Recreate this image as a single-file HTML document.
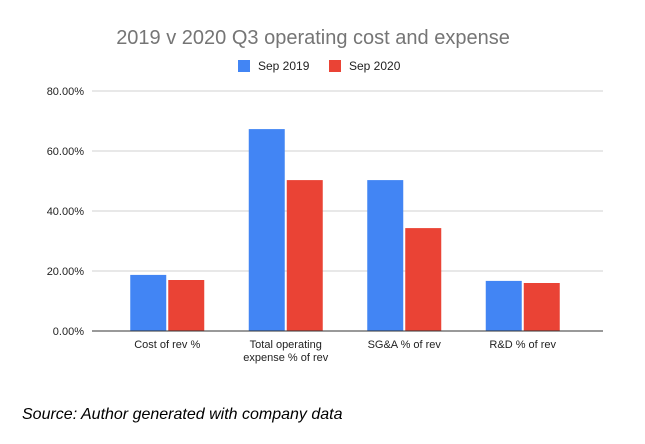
<!DOCTYPE html>
<html><head><meta charset="utf-8"><style>
body{margin:0;background:#fff;}
svg text{font-family:"Liberation Sans",Arial,sans-serif;}
</style></head><body>
<svg width="645" height="439" id="c">
<text x="313" y="44" text-anchor="middle" font-size="20" fill="#757575">2019 v 2020 Q3 operating cost and expense</text>
<rect x="238" y="60" width="12" height="12" fill="#4285f4"/>
<text x="258" y="70" font-size="12" fill="#222">Sep 2019</text>
<rect x="329" y="60" width="12" height="12" fill="#ea4335"/>
<text x="349" y="70" font-size="12" fill="#222">Sep 2020</text>
<text x="22" y="419" font-size="16" font-style="italic" fill="#000">Source: Author generated with company data</text>
</svg>
<script>
const categories=[["Cost of rev %"],["Total operating","expense % of rev"],["SG&A % of rev"],["R&D % of rev"]];
const sep2019=[18.7,67.3,50.3,16.7];
const sep2020=[17.0,50.3,34.3,16.0];
const ticks=[0,20,40,60,80];
const tickLabels=["0.00%","20.00%","40.00%","60.00%","80.00%"];
const svg=document.getElementById('c');
const NS='http://www.w3.org/2000/svg';
const y0=331,yTop=91,vmax=80,px0=108,px1=582,gx0=92,gx1=603;
function y(v){return y0-(v/vmax)*(y0-yTop);}
function xc(i){return px0+(px1-px0)/categories.length*(i+0.5);}
function mk(t,a){const e=document.createElementNS(NS,t);for(const k in a)e.setAttribute(k,a[k]);svg.appendChild(e);return e;}
ticks.forEach((t,i)=>{
 if(t>0){const l=mk('line',{x1:gx0,x2:gx1,y1:y(t),y2:y(t),stroke:'#d0d0d0','stroke-width':1});
 
 }
 const tx=mk('text',{x:84,y:y(t)+4,'text-anchor':'end','font-size':11,fill:'#222'});
 tx.textContent=tickLabels[i];
 
 
});
const bw=36;
categories.forEach((c,i)=>{
 const cx=xc(i);
 const b1=mk('rect',{x:cx-bw-1,y:y(sep2019[i]),width:bw,height:y0-y(sep2019[i]),fill:'#4285f4'});
 
 
 const b2=mk('rect',{x:cx+1,y:y(sep2020[i]),width:bw,height:y0-y(sep2020[i]),fill:'#ea4335'});
 
 
 c.forEach((ln,j)=>{
  const t=mk('text',{x:cx,y:348+j*13,'text-anchor':'middle','font-size':11,fill:'#222'});
  t.textContent=ln;
  
  
 });
});
const base=mk('line',{x1:gx0,x2:gx1,y1:y0,y2:y0,stroke:'#333','stroke-width':1});


</script>
</body></html>
